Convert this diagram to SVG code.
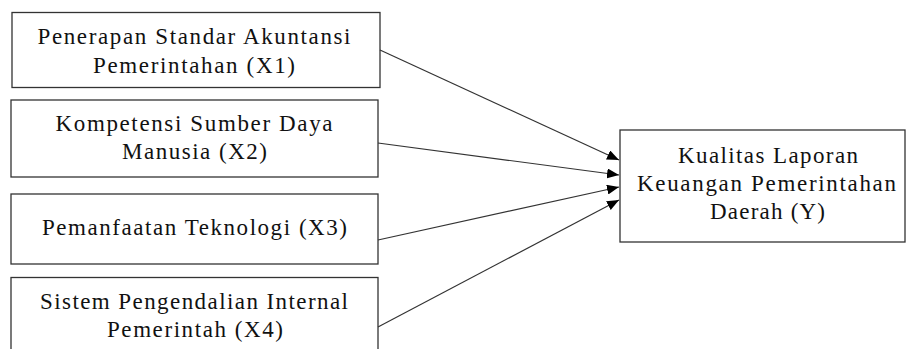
<svg xmlns="http://www.w3.org/2000/svg" width="906" height="349" viewBox="0 0 906 349">
<style>
.box{fill:#fff;stroke:#333;stroke-width:1.3}
.t{font-family:"Liberation Serif","Times New Roman",serif;font-size:23px;fill:#111;text-anchor:middle}
.c{stroke:#333;stroke-width:1.2;fill:none;marker-end:url(#ah)}
</style>
<defs>
<marker id="ah" viewBox="0 0 12 10" refX="12" refY="5" markerWidth="12" markerHeight="10" markerUnits="userSpaceOnUse" orient="auto">
<path d="M0,0 L12,5 L0,10 z" fill="#000"/>
</marker>
</defs>
<rect width="906" height="349" fill="#fff"/>
<g id="x1">
<rect class="box" x="12" y="12.5" width="368" height="75"/>
<text class="t" x="194" y="44" textLength="313" lengthAdjust="spacing">Penerapan Standar Akuntansi</text>
<text class="t" x="194" y="73" textLength="202" lengthAdjust="spacing">Pemerintahan (X1)</text>
</g>
<g id="x2">
<rect class="box" x="11" y="100" width="367" height="77"/>
<text class="t" x="194" y="131" textLength="277" lengthAdjust="spacing">Kompetensi Sumber Daya</text>
<text class="t" x="194.5" y="159" textLength="145" lengthAdjust="spacing">Manusia (X2)</text>
</g>
<g id="x3">
<rect class="box" x="11" y="194" width="367" height="70"/>
<text class="t" x="194.5" y="235" textLength="305" lengthAdjust="spacing">Pemanfaatan Teknologi (X3)</text>
</g>
<g id="x4">
<rect class="box" x="11" y="277.5" width="367" height="80"/>
<text class="t" x="194" y="309" textLength="308" lengthAdjust="spacing">Sistem Pengendalian Internal</text>
<text class="t" x="195" y="337" textLength="176" lengthAdjust="spacing">Pemerintah (X4)</text>
</g>
<g id="y">
<rect class="box" x="620" y="130" width="285" height="112"/>
<text class="t" x="768" y="163" textLength="180" lengthAdjust="spacing">Kualitas Laporan</text>
<text class="t" x="766.5" y="191" textLength="259" lengthAdjust="spacing">Keuangan Pemerintahan</text>
<text class="t" x="767.5" y="219" textLength="115" lengthAdjust="spacing">Daerah (Y)</text>
</g>
<g id="connectors">
<line class="c" x1="380" y1="50" x2="619" y2="160"/>
<line class="c" x1="378" y1="143" x2="619" y2="175"/>
<line class="c" x1="378" y1="240" x2="619" y2="187"/>
<line class="c" x1="378" y1="327" x2="619" y2="200"/>
</g>
</svg>
